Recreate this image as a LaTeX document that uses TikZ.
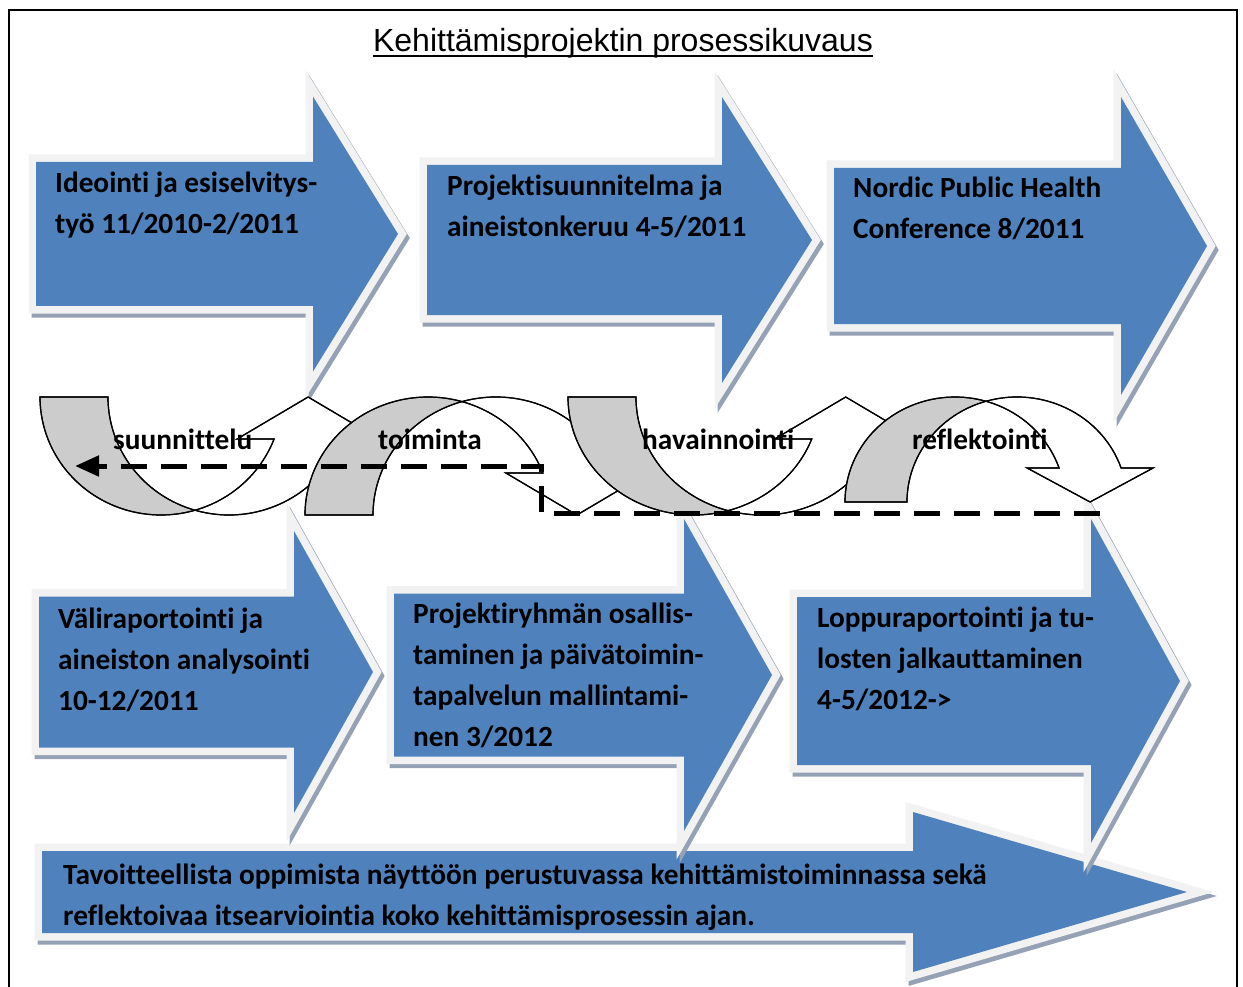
\documentclass[tikz,border=0pt]{standalone}
\usepackage{fontspec}
\setmainfont{Carlito}[Ligatures=NoCommon]
\newfontfamily\titlefont{Liberation Sans}
\usetikzlibrary{arrows.meta}
\definecolor{arrowblue}{HTML}{4F81BD}
\definecolor{outlinegray}{HTML}{F2F2F2}
\definecolor{shadowgray}{HTML}{95A2B5}
\definecolor{bandgray}{HTML}{CCCCCC}
% #1 left x, #2 head x, #3 tip x, #4 centre y, #5 body half height, #6 head half height
\newcommand\bluearrow[6]{%
  \path[fill=shadowgray,draw=shadowgray,line width=15pt,line join=miter,shift={(3,4)}]
    (#1,#4-#5) -- (#2,#4-#5) -- (#2,#4-#6) -- (#3,#4) -- (#2,#4+#6) -- (#2,#4+#5) -- (#1,#4+#5) -- cycle;
  \path[fill=outlinegray,draw=outlinegray,line width=15pt,line join=miter]
    (#1,#4-#5) -- (#2,#4-#5) -- (#2,#4-#6) -- (#3,#4) -- (#2,#4+#6) -- (#2,#4+#5) -- (#1,#4+#5) -- cycle;
  \path[fill=arrowblue]
    (#1,#4-#5) -- (#2,#4-#5) -- (#2,#4-#6) -- (#3,#4) -- (#2,#4+#6) -- (#2,#4+#5) -- (#1,#4+#5) -- cycle;
}
\tikzset{
  arrowtext/.style={font=\fontsize{29.3}{41}\selectfont\bfseries, align=left, anchor=base west, inner sep=0pt},
  cyclelabel/.style={font=\fontsize{29.3}{35}\selectfont\bfseries, anchor=base west, inner sep=0pt},
  bandback/.style={fill=bandgray, draw=black, line width=1.2pt, line join=miter},
  bandfront/.style={fill=white, draw=black, line width=1.2pt, line join=miter},
  bandline/.style={draw=black, line width=1.2pt, line join=miter},
  dashline/.style={line width=5pt, dash pattern=on 26pt off 14pt, -{Triangle[length=24pt,width=20pt]}},
}
\begin{document}
\begin{tikzpicture}[x=1pt,y=-1pt]
\useasboundingbox (0,0) rectangle (1243,987);
\fill[white] (0,0) rectangle (1243,987);

% block arrows
\bluearrow{36}{313}{398}{234}{72}{137.5}
\bluearrow{427}{722}{812}{240}{75}{143}
\bluearrow{834}{1121}{1207}{246}{78}{149}
\bluearrow{42}{913}{1187}{892}{41}{80}
\bluearrow{39}{294}{373}{672}{75.5}{141}
\bluearrow{394}{684}{772}{675}{81.5}{156}
\bluearrow{797}{1091}{1180}{681}{84}{162}

% (node base = baseline of the last line)
\node[arrowtext] (t1) at (55,234) {Ideointi ja esiselvitys-\\työ 11/2010-2/2011};
\node[arrowtext] (t2) at (447,237) {Projektisuunnitelma ja\\aineistonkeruu 4-5/2011};
\node[arrowtext] (t3) at (853,239) {Nordic Public Health\\Conference 8/2011};
\node[arrowtext] (t4) at (58,710) {Väliraportointi ja\\aineiston analysointi\\10-12/2011};
\node[arrowtext] (t5) at (413,746) {Projektiryhmän osallis-\\taminen ja päivätoimin-\\tapalvelun mallintami-\\nen 3/2012};
\node[arrowtext] (t6) at (817,709) {Loppuraportointi ja tu-\\losten jalkauttaminen\\4-5/2012->};
\node[arrowtext] (t7) at (63,925) {Tavoitteellista oppimista näyttöön perustuvassa kehittämistoiminnassa sekä\\reflektoivaa itsearviointia koko kehittämisprosessin ajan.};

% curved arrow A (suunnittelu)
\path[save path=\backA] (40,397) arc[start angle=180, end angle=73.68, x radius=121, y radius=118]
  arc[start angle=106.32, end angle=180, x radius=121, y radius=118] -- cycle;
\path[save path=\frontA] (161,397) ++(73.68:121 and 118)
  arc[start angle=73.68, end angle=20.85, x radius=121, y radius=118]
  -- (237.1,439) -- (308.1,397) -- (379.1,439) -- (342.1,439)
  arc[start angle=20.85, end angle=106.32, x radius=121, y radius=118] -- cycle;
\path[bandback, use path=\backA];
\path[bandfront, use path=\frontA];
\node[cyclelabel] (l1) at (113,449) {suunnittelu};
\path[bandline, use path=\backA];
\path[bandline, use path=\frontA];

% curved arrow B (toiminta)
\path[save path=\backB] (305,515) arc[start angle=-180, end angle=-73.95, x radius=123, y radius=118]
  arc[start angle=-106.05, end angle=-180, x radius=123, y radius=118] -- cycle;
\path[save path=\frontB] (428,515) ++(-73.95:123 and 118)
  arc[start angle=-73.95, end angle=-20.85, x radius=123, y radius=118]
  -- (505.9,473) -- (576.9,515) -- (647.9,473) -- (610.9,473)
  arc[start angle=-20.85, end angle=-106.05, x radius=123, y radius=118] -- cycle;
\path[bandback, use path=\backB];
\path[bandfront, use path=\frontB];
\node[cyclelabel] (l2) at (378,449) {toiminta};
\path[bandline, use path=\backB];
\path[bandline, use path=\frontB];

% curved arrow C (havainnointi)
\path[save path=\backC] (568,397) arc[start angle=180, end angle=74.35, x radius=126, y radius=118]
  arc[start angle=105.65, end angle=180, x radius=126, y radius=118] -- cycle;
\path[save path=\frontC] (694,397) ++(74.35:126 and 118)
  arc[start angle=74.35, end angle=20.85, x radius=126, y radius=118]
  -- (774.7,439) -- (845.7,397) -- (916.7,439) -- (879.7,439)
  arc[start angle=20.85, end angle=105.65, x radius=126, y radius=118] -- cycle;
\path[bandback, use path=\backC];
\path[bandfront, use path=\frontC];
\node[cyclelabel] (l3) at (642,449) {havainnointi};
\path[bandline, use path=\backC];
\path[bandline, use path=\frontC];

% curved arrow D (reflektointi)
\path[save path=\backD] (845,502) arc[start angle=-180, end angle=-73.63, x radius=110, y radius=105]
  arc[start angle=-106.37, end angle=-180, x radius=110, y radius=105] -- cycle;
\path[save path=\frontD] (955,502) ++(-73.63:110 and 105)
  arc[start angle=-73.63, end angle=-18.89, x radius=110, y radius=105]
  -- (1027.1,468) -- (1090.1,502) -- (1153.1,468) -- (1121.1,468)
  arc[start angle=-18.89, end angle=-106.37, x radius=110, y radius=105] -- cycle;
\path[bandback, use path=\backD];
\path[bandfront, use path=\frontD];
\node[cyclelabel] (l4) at (912,449) {reflektointi};
\path[bandline, use path=\backD];
\path[bandline, use path=\frontD];

% dashed feedback connector
\coordinate (dR) at (1100,513);
\coordinate (dB) at (541,513);
\coordinate (dT) at (541,466);
\coordinate (dL) at (75,466);
\draw[dashline] (dR) -- (dB) -- (dT) -- (dL);

% title and frame
\node[font=\titlefont\fontsize{32}{38}\selectfont, inner sep=0pt, anchor=base] (title) at (623,52) {Kehittämisprojektin prosessikuvaus};
\draw[line width=2pt] ([yshift=-4pt]title.base west) -- ([yshift=-4pt]title.base east);
\draw[line width=2pt] (9,995) -- (9,10) -- (1237,10) -- (1237,995);
\end{tikzpicture}
\end{document}
